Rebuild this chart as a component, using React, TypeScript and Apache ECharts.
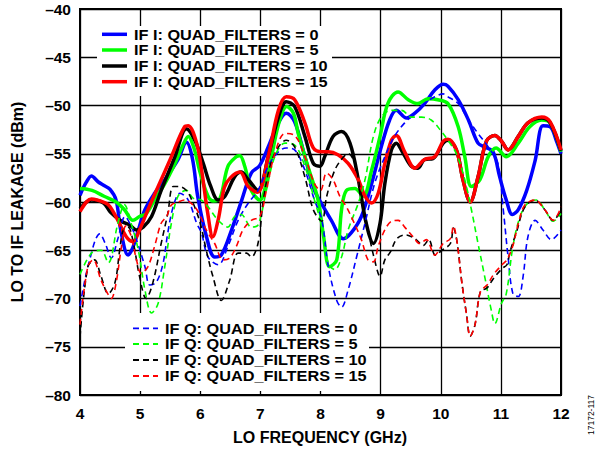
import React, { useEffect, useRef } from "react";
import * as echarts from "echarts";

// ---------- DATA ----------
const xTicks = { min: 4, max: 12, step: 1 };
const yTicks = { min: -80, max: -40, step: 5 };

const seriesNamesI = [
  "IF I: QUAD_FILTERS = 0",
  "IF I: QUAD_FILTERS = 5",
  "IF I: QUAD_FILTERS = 10",
  "IF I: QUAD_FILTERS = 15",
];
const seriesNamesQ = [
  "IF Q: QUAD_FILTERS = 0",
  "IF Q: QUAD_FILTERS = 5",
  "IF Q: QUAD_FILTERS = 10",
  "IF Q: QUAD_FILTERS = 15",
];
const seriesColors = ["#0000FF", "#00FF00", "#000000", "#FF0000"];

const blueI = [
  [4.0, -59.3], [4.1, -58.0], [4.19, -57.3], [4.3, -57.9], [4.4, -58.3], [4.5, -58.7], [4.6, -59.8],
  [4.68, -63.0], [4.8, -65.5], [4.88, -64.7], [4.97, -62.9], [5.08, -60.8], [5.24, -59.1], [5.41, -57.7],
  [5.63, -55.6], [5.77, -53.8], [5.87, -55.5], [5.96, -59.5], [6.1, -63.5], [6.24, -65.7], [6.35, -65.5],
  [6.52, -62.9], [6.69, -59.8], [6.85, -57.0], [6.99, -56.2], [7.13, -54.3], [7.3, -51.8], [7.43, -50.8],
  [7.57, -51.7], [7.74, -55.3], [7.9, -58.8], [8.02, -60.2], [8.18, -61.9], [8.38, -63.8], [8.51, -63.2],
  [8.68, -61.5], [8.85, -58.1], [9.01, -54.3], [9.15, -51.5], [9.26, -50.5], [9.43, -51.3], [9.57, -50.8],
  [9.73, -49.8], [9.9, -48.4], [10.04, -47.8], [10.12, -48.0], [10.29, -49.4], [10.46, -51.5], [10.62, -53.9],
  [10.73, -54.3], [10.87, -54.8], [10.98, -57.4], [11.09, -59.8], [11.19, -61.3], [11.29, -60.8],
  [11.43, -58.8], [11.57, -55.7], [11.7, -52.1], [11.82, -52.2], [11.92, -53.6], [12.0, -55.0],
];

const greenI = [
  [4.0, -58.6], [4.2, -58.8], [4.4, -59.4], [4.6, -60.0], [4.74, -60.8], [4.88, -61.9], [4.99, -61.5],
  [5.1, -61.2], [5.24, -59.8], [5.41, -58.1], [5.58, -56.0], [5.72, -54.0], [5.8, -53.2], [5.9, -54.5],
  [6.0, -57.0], [6.13, -59.4], [6.22, -59.9], [6.33, -59.6], [6.46, -56.3], [6.6, -55.3], [6.66, -55.2],
  [6.74, -56.3], [6.85, -58.8], [6.99, -59.8], [7.13, -57.0], [7.3, -52.0], [7.44, -50.1], [7.55, -50.8],
  [7.63, -52.9], [7.79, -56.3], [7.96, -59.8], [8.05, -63.5], [8.15, -66.7], [8.27, -66.0], [8.35, -60.8],
  [8.43, -58.8], [8.57, -58.6], [8.71, -59.4], [8.85, -56.7], [8.99, -53.2], [9.12, -49.8], [9.29, -48.6],
  [9.46, -49.4], [9.62, -49.8], [9.79, -49.3], [9.95, -49.4], [10.12, -49.8], [10.29, -52.2], [10.4, -55.3],
  [10.51, -58.4], [10.65, -57.7], [10.79, -55.3], [10.92, -54.4], [11.09, -55.3], [11.29, -53.9],
  [11.48, -52.2], [11.68, -51.5], [11.82, -51.8], [12.0, -54.8],
];

const blackI = [
  [4.0, -60.7], [4.19, -59.8], [4.39, -60.1], [4.5, -61.0], [4.69, -62.0], [4.83, -62.4], [4.94, -62.9],
  [5.05, -62.6], [5.19, -61.5], [5.35, -58.8], [5.58, -55.3], [5.77, -52.4], [5.91, -53.6], [6.05, -56.0],
  [6.17, -58.3], [6.3, -59.8], [6.41, -59.4], [6.57, -57.4], [6.68, -56.9], [6.8, -57.7], [6.96, -58.8],
  [7.13, -55.3], [7.3, -51.2], [7.43, -49.6], [7.57, -50.1], [7.74, -53.2], [7.88, -56.0], [7.99, -56.3],
  [8.07, -55.3], [8.21, -53.2], [8.35, -52.7], [8.49, -53.9], [8.63, -57.7], [8.76, -62.2], [8.88, -64.3],
  [8.99, -62.2], [9.07, -58.1], [9.18, -54.6], [9.26, -53.9], [9.37, -54.9], [9.51, -56.3], [9.62, -56.5],
  [9.73, -55.6], [9.87, -55.5], [10.04, -53.9], [10.12, -53.6], [10.26, -54.6], [10.37, -57.7],
  [10.49, -60.0], [10.62, -57.4], [10.76, -53.7], [10.9, -53.1], [11.01, -53.7], [11.12, -54.6],
  [11.29, -53.2], [11.45, -51.8], [11.68, -51.3], [11.82, -51.8], [12.0, -54.7],
];

const redI = [
  [4.0, -61.0], [4.19, -59.7], [4.42, -60.1], [4.5, -60.5], [4.63, -61.9], [4.77, -63.6], [4.88, -64.1],
  [4.99, -62.9], [5.13, -60.8], [5.3, -58.4], [5.52, -55.3], [5.74, -52.2], [5.8, -52.1], [5.94, -53.9],
  [6.03, -57.0], [6.12, -61.0], [6.21, -63.6], [6.3, -61.8], [6.4, -58.5], [6.5, -57.5], [6.66, -56.9],
  [6.8, -58.4], [6.95, -59.0], [7.13, -55.3], [7.3, -50.5], [7.43, -49.1], [7.57, -49.4], [7.74, -51.8],
  [7.88, -54.4], [8.02, -54.8], [8.13, -54.8], [8.29, -55.1], [8.46, -56.0], [8.63, -57.7], [8.74, -59.4],
  [8.85, -60.1], [8.96, -59.1], [9.07, -56.0], [9.18, -53.6], [9.26, -53.1], [9.4, -54.8], [9.57, -56.5],
  [9.73, -55.6], [9.9, -55.3], [10.04, -53.7], [10.12, -53.5], [10.26, -54.6], [10.37, -57.7],
  [10.49, -60.0], [10.62, -57.4], [10.76, -53.7], [10.9, -53.1], [11.01, -53.7], [11.12, -54.6],
  [11.29, -53.2], [11.45, -51.8], [11.68, -51.2], [11.82, -51.7], [12.0, -54.6],
];

const blueQ = [
  [4.0, -70.8], [4.14, -66.5], [4.33, -63.3], [4.42, -64.3], [4.52, -65.8], [4.63, -63.8], [4.75, -61.5],
  [4.85, -62.5], [4.94, -63.9], [5.08, -66.7], [5.16, -68.6], [5.27, -68.3], [5.38, -66.4], [5.46, -63.2],
  [5.55, -60.5], [5.66, -59.1], [5.8, -59.8], [5.94, -62.2], [6.02, -63.2], [6.13, -65.7], [6.3, -66.5],
  [6.46, -64.6], [6.63, -61.9], [6.8, -60.1], [6.96, -58.8], [7.13, -56.3], [7.3, -54.8], [7.43, -54.4],
  [7.57, -54.6], [7.74, -56.7], [7.9, -59.8], [8.02, -61.8], [8.13, -66.7], [8.27, -70.2], [8.35, -70.9],
  [8.46, -69.1], [8.6, -65.7], [8.74, -62.2], [8.9, -58.1], [9.07, -55.3], [9.23, -53.2], [9.4, -51.8],
  [9.57, -50.8], [9.73, -49.8], [9.9, -49.1], [10.04, -48.8], [10.12, -49.1], [10.29, -49.8], [10.46, -51.5],
  [10.62, -52.9], [10.79, -54.3], [10.95, -56.0], [11.04, -60.8], [11.12, -65.7], [11.2, -69.5],
  [11.29, -69.8], [11.37, -67.7], [11.45, -63.6], [11.57, -61.9], [11.7, -62.9], [11.84, -63.9], [12.0, -62.9],
];

const greenQ = [
  [4.0, -67.5], [4.19, -65.3], [4.35, -65.0], [4.47, -66.3], [4.63, -62.2], [4.74, -60.3], [4.85, -62.2],
  [4.97, -65.0], [5.08, -69.1], [5.19, -71.5], [5.3, -70.5], [5.41, -66.7], [5.52, -62.2], [5.63, -59.4],
  [5.77, -58.8], [5.88, -59.6], [6.02, -59.8], [6.13, -60.5], [6.3, -61.9], [6.46, -62.6], [6.57, -61.5],
  [6.68, -61.3], [6.85, -62.6], [6.96, -62.4], [7.1, -58.8], [7.24, -55.3], [7.41, -53.9], [7.57, -54.1],
  [7.74, -56.3], [7.9, -59.8], [8.02, -62.5], [8.13, -66.4], [8.24, -67.0], [8.35, -65.7], [8.46, -62.9],
  [8.63, -60.1], [8.74, -57.7], [8.88, -53.2], [9.01, -51.2], [9.18, -50.5], [9.35, -50.5], [9.51, -51.2],
  [9.68, -51.2], [9.84, -51.5], [10.0, -52.6], [10.12, -53.6], [10.26, -55.0], [10.4, -57.7], [10.51, -60.8],
  [10.62, -64.3], [10.73, -67.7], [10.84, -71.2], [10.9, -72.6], [11.01, -70.5], [11.09, -69.5],
  [11.2, -64.6], [11.32, -61.5], [11.45, -60.1], [11.59, -59.8], [11.73, -60.8], [11.87, -62.0], [12.0, -61.2],
];

const blackQ = [
  [4.0, -74.0], [4.13, -66.7], [4.24, -66.0], [4.35, -67.7], [4.47, -69.5], [4.58, -68.4], [4.66, -65.0],
  [4.72, -62.9], [4.8, -62.6], [4.88, -64.0], [4.99, -67.7], [5.1, -70.0], [5.21, -68.4], [5.35, -64.3],
  [5.46, -61.2], [5.55, -58.4], [5.65, -58.4], [5.77, -58.8], [5.88, -60.1], [6.0, -62.2], [6.1, -65.0],
  [6.21, -67.7], [6.35, -70.2], [6.49, -68.1], [6.63, -65.3], [6.77, -65.3], [6.85, -65.7], [6.96, -64.3],
  [7.05, -59.8], [7.16, -56.3], [7.3, -54.3], [7.43, -53.6], [7.57, -54.3], [7.74, -57.4], [7.88, -60.8],
  [8.02, -62.0], [8.1, -59.5], [8.2, -57.3], [8.3, -56.0], [8.46, -55.0], [8.57, -56.0], [8.68, -59.4],
  [8.79, -62.9], [8.9, -66.0], [8.99, -67.7], [9.07, -66.0], [9.16, -65.2], [9.27, -63.8], [9.41, -63.4],
  [9.57, -63.8], [9.71, -64.5], [9.8, -63.9], [9.91, -65.5], [10.02, -65.0], [10.16, -64.3], [10.21, -62.7],
  [10.27, -64.1], [10.35, -68.3], [10.43, -71.7], [10.49, -73.9], [10.57, -72.7], [10.66, -69.3],
  [10.77, -68.9], [10.88, -67.9], [11.02, -66.9], [11.1, -66.5], [11.15, -65.2], [11.26, -63.1],
  [11.4, -60.5], [11.57, -59.8], [11.73, -60.8], [11.87, -61.9], [12.0, -60.8],
];

const redQ = [
  [4.0, -72.7], [4.13, -66.7], [4.22, -66.0], [4.35, -68.1], [4.47, -69.6], [4.52, -70.0], [4.6, -68.4],
  [4.69, -64.6], [4.76, -62.5], [4.85, -63.5], [4.94, -66.0], [5.02, -67.4], [5.13, -66.7], [5.24, -64.6],
  [5.35, -62.2], [5.44, -61.5], [5.52, -60.3], [5.63, -60.0], [5.74, -59.8], [5.88, -60.3], [5.99, -61.3],
  [6.1, -62.9], [6.24, -64.3], [6.38, -66.0], [6.49, -65.8], [6.6, -64.6], [6.71, -62.9], [6.85, -61.9],
  [6.99, -61.5], [7.1, -58.8], [7.24, -55.0], [7.41, -52.9], [7.57, -53.1], [7.74, -55.3], [7.9, -58.1],
  [8.0, -58.8], [8.1, -57.0], [8.21, -57.7], [8.32, -59.4], [8.43, -60.5], [8.54, -61.9], [8.68, -63.9],
  [8.79, -66.0], [8.88, -66.2], [8.96, -64.6], [9.07, -62.9], [9.18, -62.0], [9.29, -61.9], [9.4, -62.6],
  [9.54, -63.6], [9.65, -64.3], [9.76, -63.9], [9.9, -65.5], [10.04, -64.3], [10.16, -63.8], [10.21, -62.5],
  [10.27, -64.1], [10.35, -68.3], [10.43, -71.7], [10.49, -73.9], [10.57, -72.7], [10.66, -69.3],
  [10.77, -68.6], [10.88, -67.5], [11.02, -66.5], [11.1, -66.0], [11.2, -64.5], [11.3, -62.0],
  [11.4, -60.3], [11.57, -59.8], [11.73, -60.8], [11.87, -61.9], [12.0, -60.5],
];

const dataI = [blueI, greenI, blackI, redI];
const dataQ = [blueQ, greenQ, blackQ, redQ];

const xTitle = "LO FREQUENCY (GHz)";
const yTitle = "LO TO IF LEAKAGE (dBm)";
const figureCode = "17172-117";

// ---------- STYLE ----------
const FONT = "'Liberation Sans', Arial, Helvetica, sans-serif";
const DASH = [6, 4];

function legendBlock(
  names: string[],
  dashed: boolean,
  box: { x: number; y: number; w: number; h: number },
  lineX: number,
  textX: number,
  rowY: number[]
) {
  const els: any[] = [
    {
      type: "rect",
      z: 1,
      shape: { x: box.x, y: box.y, width: box.w, height: box.h },
      style: { fill: "#ffffff", stroke: null },
    },
  ];
  names.forEach((n, i) => {
    els.push({
      type: "line",
      z: 5,
      shape: { x1: lineX, y1: rowY[i], x2: lineX + 25, y2: rowY[i] },
      style: {
        stroke: seriesColors[i],
        lineWidth: dashed ? 1.8 : 3.5,
        lineDash: dashed ? DASH : null,
      },
    });
    els.push({
      type: "text",
      z: 5,
      x: textX,
      y: rowY[i],
      scaleX: 1.05,
      style: {
        text: n,
        fill: "#000",
        fontSize: 15.5,
        fontWeight: "bold",
        fontFamily: FONT,
        align: "left",
        verticalAlign: "middle",
        textAlign: "left",
        textVerticalAlign: "middle",
      },
    });
  });
  return els;
}

export default function App() {
  const ref = useRef<HTMLDivElement>(null);

  useEffect(() => {
    if (!ref.current) return;
    const chart = echarts.init(ref.current, null, { renderer: "svg" });

    const series: any[] = [];
    dataI.forEach((d, i) => {
      series.push({
        name: seriesNamesI[i],
        type: "line",
        data: d,
        symbol: "none",
        showSymbol: false,
        smooth: 0.35,
        z: 2,
        lineStyle: { color: seriesColors[i], width: 3.5, type: "solid" },
      });
    });
    dataQ.forEach((d, i) => {
      series.push({
        name: seriesNamesQ[i],
        type: "line",
        data: d,
        symbol: "none",
        showSymbol: false,
        smooth: 0.35,
        z: 3,
        lineStyle: { color: seriesColors[i], width: 1.6, type: DASH },
      });
    });

    const axisLabel = {
      color: "#000",
      fontSize: 15.5,
      fontWeight: "bold",
      fontFamily: FONT,
    };

    const option: any = {
      animation: false,
      backgroundColor: "#ffffff",
      grid: {
        left: 80,
        right: 37,
        top: 9,
        bottom: 54,
        show: true,
        borderColor: "#000",
        borderWidth: 2,
        backgroundColor: "transparent",
        z: 0,
      },
      xAxis: {
        type: "value",
        min: xTicks.min,
        max: xTicks.max,
        interval: xTicks.step,
        axisLine: { show: true, lineStyle: { color: "#000", width: 2 } },
        axisTick: { show: false },
        splitLine: { show: true, lineStyle: { color: "#000", width: 1.3 } },
        axisLabel: { ...axisLabel, margin: 10 },
      },
      yAxis: {
        type: "value",
        min: yTicks.min,
        max: yTicks.max,
        interval: yTicks.step,
        axisLine: { show: true, lineStyle: { color: "#000", width: 2 } },
        axisTick: { show: false },
        splitLine: { show: true, lineStyle: { color: "#000", width: 1.3 } },
        axisLabel: {
          ...axisLabel,
          margin: 9,
          formatter: (v: number) => (v < 0 ? "\u2013" + Math.abs(v) : String(v)),
        },
      },
      graphic: {
        elements: [
          ...legendBlock(seriesNamesI, false, { x: 97, y: 26, w: 235, h: 70 }, 102, 134, [34.3, 50, 66, 81.7]),
          ...legendBlock(seriesNamesQ, true, { x: 125, y: 313, w: 244, h: 78 }, 133, 165, [328.3, 344, 360, 376]),
          {
            type: "text",
            z: 5,
            x: 320,
            y: 437,
            style: {
              text: xTitle,
              fill: "#000",
              fontSize: 16,
              fontWeight: "bold",
              fontFamily: FONT,
              align: "center",
              verticalAlign: "middle",
              textAlign: "center",
              textVerticalAlign: "middle",
            },
          },
          {
            type: "text",
            z: 5,
            x: 17,
            y: 202,
            rotation: Math.PI / 2,
            style: {
              text: yTitle,
              fill: "#000",
              fontSize: 16,
              fontWeight: "bold",
              fontFamily: FONT,
              align: "center",
              verticalAlign: "middle",
              textAlign: "center",
              textVerticalAlign: "middle",
            },
          },
          {
            type: "text",
            z: 5,
            x: 591,
            y: 415,
            rotation: Math.PI / 2,
            style: {
              text: figureCode,
              fill: "#000",
              fontSize: 8.5,
              fontFamily: FONT,
              align: "center",
              verticalAlign: "middle",
              textAlign: "center",
              textVerticalAlign: "middle",
            },
          },
        ],
      },
      series,
    };

    chart.setOption(option);
    return () => chart.dispose();
  }, []);

  return (
    <div
      ref={ref}
      style={{ position: "fixed", left: 0, top: 0, width: 598, height: 449, background: "#fff" }}
    />
  );
}
